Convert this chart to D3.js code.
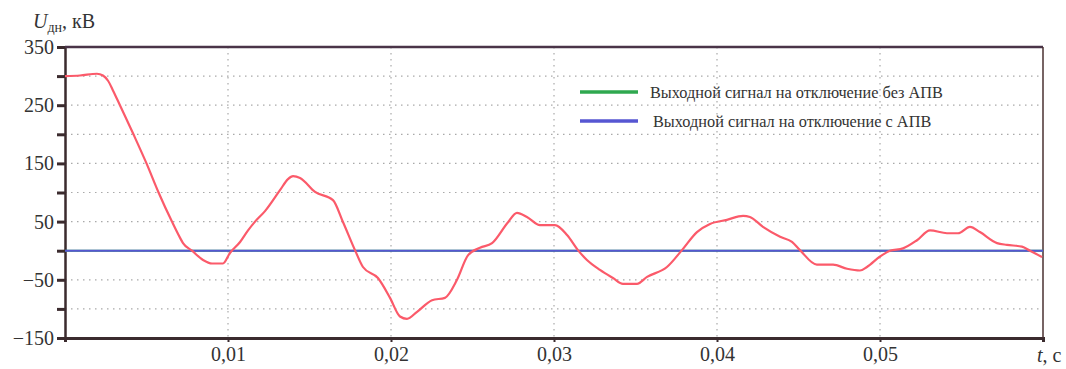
<!DOCTYPE html>
<html><head><meta charset="utf-8">
<script src="https://cdn.jsdelivr.net/npm/d3@7"></script>
<style>
body{margin:0;background:#fff;}
svg text{font-family:"Liberation Serif","DejaVu Serif",serif;fill:#333;}
</style></head>
<body><svg id="c" width="1066" height="369"></svg>
<script>
// time (s)
const times = [0,0.00092,0.00196,0.00233,0.00264,0.00295,0.00337,0.0042,0.005,0.00574,0.00656,0.00706,0.00724,0.00779,0.00847,0.00902,0.00969,0.01012,0.01074,0.01123,0.01166,0.01227,0.01319,0.01368,0.01399,0.01442,0.01534,0.01644,0.01706,0.01779,0.01828,0.0192,0.01994,0.02055,0.02098,0.0216,0.02252,0.02331,0.02405,0.02472,0.02546,0.0262,0.02718,0.02773,0.02834,0.02914,0.03006,0.0308,0.03147,0.03202,0.03282,0.03362,0.03423,0.03509,0.03571,0.03693,0.03785,0.03877,0.03957,0.04061,0.0416,0.04202,0.04282,0.04387,0.0446,0.04509,0.04613,0.04712,0.04798,0.04877,0.0492,0.05,0.05061,0.05141,0.05227,0.05307,0.05411,0.05479,0.05552,0.05613,0.05718,0.05779,0.05871,0.0592,0.05994];
// U_dn (kV)
const voltage = [300,301,304,301,292,275,250,200,150,100,50,22,13,0,-16,-22,-22,-4,15,35,50,68,104,123,128,125,101,87,49,1,-28,-47,-81,-113,-117,-105,-85,-81,-50,-8,5,13,49,65,58,44,44,27,1,-16,-33,-47,-57,-57,-45,-28,1,32,46,53,60,58,41,24,15,1,-24,-24,-31,-34,-28,-10,0,4,18,35,30,30,41,32,13,10,7,0,-11];
const signalTimes = [0, 0.06];
const signalNoAPV = [0, 0];
const signalAPV = [0, 0];
const legendLabels = ["Выходной сигнал на отключение без АПВ","Выходной сигнал на отключение с АПВ"];
const yTicks = [350,300,250,200,150,100,50,0,-50,-100,-150];
const yLabeled = [350,250,150,50,-50,-150];
const xTicks = [0.01,0.02,0.03,0.04,0.05];
const xTickLabels = ["0,01","0,02","0,03","0,04","0,05"];

const SERIF = "Liberation Serif, DejaVu Serif, serif";
const svg = d3.select("#c");
const x = d3.scaleLinear().domain([0,0.06]).range([65,1043]);
const y = d3.scaleLinear().domain([-150,350]).range([338,47]);

// grid
const g = svg.append("g");
g.selectAll(".hg").data(yTicks.filter(v=>v!==350&&v!==-150)).enter().append("line")
 .attr("x1",x(0)).attr("x2",x(0.06)).attr("y1",d=>y(d)).attr("y2",d=>y(d))
 .attr("stroke","#a9a9a9").attr("stroke-width",1.2).attr("stroke-dasharray","1.5,4.5");
g.selectAll(".vg").data(xTicks).enter().append("line")
 .attr("x1",d=>x(d)).attr("x2",d=>x(d)).attr("y1",y(350)).attr("y2",y(-150))
 .attr("stroke","#a9a9a9").attr("stroke-width",1.2).attr("stroke-dasharray","1.5,4.5");

// y axis
const yAxis = d3.axisLeft(y).tickValues(yTicks).tickSize(8)
 .tickFormat(d=>yLabeled.includes(d)? (d<0?"−"+Math.abs(d):d):"");
const ya = svg.append("g").attr("transform",`translate(${x(0)},0)`).call(yAxis)
 .attr("font-family",SERIF).attr("font-size",20);
ya.select(".domain").attr("stroke","#3b2b2e").attr("stroke-width",2.5);
ya.selectAll(".tick line").attr("stroke","#3b2b2e").attr("stroke-width",3);
ya.selectAll(".tick text").attr("fill","#333").attr("x",-11);

// x axis
const xAxis = d3.axisBottom(x).tickValues(xTicks).tickSize(4).tickFormat((d,i)=>xTickLabels[i]);
const xa = svg.append("g").attr("transform",`translate(0,${y(-150)})`).call(xAxis)
 .attr("font-family",SERIF).attr("font-size",20);
xa.select(".domain").attr("stroke","#3b2b2e").attr("stroke-width",3);
xa.selectAll(".tick line").attr("stroke","#3b2b2e").attr("stroke-width",2);
xa.selectAll(".tick text").attr("fill","#333").attr("y",9);

// top and right border
svg.append("line").attr("x1",x(0)).attr("x2",x(0.06)).attr("y1",y(350)).attr("y2",y(350))
 .attr("stroke","#4a3448").attr("stroke-width",2.5);
svg.append("line").attr("x1",x(0.06)).attr("x2",x(0.06)).attr("y1",y(350)).attr("y2",y(-150))
 .attr("stroke","#4a3030").attr("stroke-width",1.5);

// series
const line = d3.line().x(d=>x(d[0])).y(d=>y(d[1])).curve(d3.curveMonotoneX);
const sig = d3.line().x(d=>x(d[0])).y(d=>y(d[1]));
svg.append("path").datum(signalTimes.map((t,i)=>[t,signalNoAPV[i]])).attr("d",sig)
 .attr("fill","none").attr("stroke","#2fa84f").attr("stroke-width",2);
svg.append("path").datum(signalTimes.map((t,i)=>[t,signalAPV[i]])).attr("d",sig)
 .attr("fill","none").attr("stroke","#5656d2").attr("stroke-width",2);
svg.append("path").datum(times.map((t,i)=>[t,voltage[i]])).attr("d",line)
 .attr("fill","none").attr("stroke","#fb5a6a").attr("stroke-width",2.2).attr("stroke-linejoin","round");

// legend
const lg = svg.append("g");
const lcol = ["#2fa84f","#5656d2"];
[0,1].forEach(i=>{
  const ly = 92 + i*29;
  lg.append("line").attr("x1",580).attr("x2",638).attr("y1",ly).attr("y2",ly)
    .attr("stroke",lcol[i]).attr("stroke-width",3.5);
  lg.append("text").attr("x",650 + i*3).attr("y",ly).attr("dy","0.35em")
    .attr("font-size",16.3).attr("fill","#333").text(legendLabels[i]);
});

// axis titles
const yt = svg.append("text").attr("x",33).attr("y",28).attr("font-size",20).attr("fill","#333");
yt.append("tspan").attr("font-style","italic").text("U");
yt.append("tspan").attr("font-size",14).attr("dy",4).text("дн");
yt.append("tspan").attr("dy",-4).text(", кВ");
const xt = svg.append("text").attr("x",1037).attr("y",362).attr("font-size",20).attr("fill","#333");
xt.append("tspan").attr("font-style","italic").text("t");
xt.append("tspan").text(", с");
</script></body></html>
